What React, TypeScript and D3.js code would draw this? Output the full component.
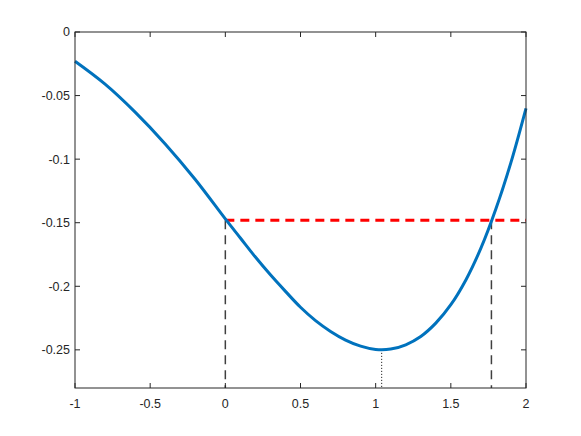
import React, { useEffect, useRef } from 'react';
import * as d3 from 'd3';

// curve samples
const curveX = [-1, -0.8, -0.6, -0.4, -0.2, 0, 0.1, 0.2, 0.3, 0.4, 0.5, 0.6, 0.7, 0.8, 0.9, 1.0, 1.1, 1.2, 1.3, 1.4, 1.5, 1.6, 1.7, 1.8, 1.9, 2.0];
const curveY = [-0.023, -0.041, -0.063, -0.088, -0.116, -0.147, -0.162, -0.177, -0.191, -0.204, -0.2165, -0.227, -0.2355, -0.2423, -0.2471, -0.2497, -0.2494, -0.246, -0.2395, -0.229, -0.2145, -0.195, -0.170, -0.139, -0.1025, -0.060];

const levelY = -0.148;
const crossX = [0, 1.77];
const minX = 1.04;
const minY = -0.25;

const xTicks = [-1, -0.5, 0, 0.5, 1, 1.5, 2];
const yTicks = [0, -0.05, -0.1, -0.15, -0.2, -0.25];

const W = 581;
const H = 436;

const App = () => {
  const svgRef = useRef<SVGSVGElement>(null);

  useEffect(() => {
    if (!svgRef.current) return;
    const svg = d3.select(svgRef.current);
    svg.selectAll('*').remove();

    const margin = { top: 32, right: 55, bottom: 48, left: 75 };
    const x = d3.scaleLinear().domain([-1, 2]).range([margin.left, W - margin.right]);
    const y = d3.scaleLinear().domain([-0.28, 0]).range([H - margin.bottom, margin.top]);

    const axisColor = '#262626';
    const font = '"Liberation Sans", Arial, sans-serif';

    const g = svg.append('g');

    // red level line
    g.append('line')
      .attr('x1', x(0)).attr('x2', x(2))
      .attr('y1', y(levelY)).attr('y2', y(levelY))
      .attr('stroke', '#ff0000')
      .attr('stroke-width', 3)
      .attr('stroke-dasharray', '9,6');

    // vertical dashed drops
    crossX.forEach(cx => {
      g.append('line')
        .attr('x1', x(cx)).attr('x2', x(cx))
        .attr('y1', y(levelY)).attr('y2', y(-0.28))
        .attr('stroke', '#404040')
        .attr('stroke-width', 1.5)
        .attr('stroke-dasharray', '9,6');
    });

    // dotted drop from minimum
    g.append('line')
      .attr('x1', x(minX)).attr('x2', x(minX))
      .attr('y1', y(minY)).attr('y2', y(-0.28))
      .attr('stroke', '#000')
      .attr('stroke-width', 1)
      .attr('stroke-dasharray', '1,2');

    const pts: [number, number][] = curveX.map((d, i) => [d, curveY[i]]);
    const line = d3.line<[number, number]>()
      .x(d => x(d[0]))
      .y(d => y(d[1]))
      .curve(d3.curveCatmullRom.alpha(0.5));

    g.append('path')
      .datum(pts)
      .attr('d', line)
      .attr('fill', 'none')
      .attr('stroke', '#0072BD')
      .attr('stroke-width', 3);

    // box
    const x0 = x(-1), x1 = x(2), y0 = y(-0.28), y1 = y(0);
    g.append('rect')
      .attr('x', x0).attr('y', y1)
      .attr('width', x1 - x0).attr('height', y0 - y1)
      .attr('fill', 'none')
      .attr('stroke', axisColor)
      .attr('stroke-width', 1);

    const tl = 5;
    xTicks.forEach(t => {
      g.append('line').attr('x1', x(t)).attr('x2', x(t)).attr('y1', y0).attr('y2', y0 - tl).attr('stroke', axisColor);
      g.append('line').attr('x1', x(t)).attr('x2', x(t)).attr('y1', y1).attr('y2', y1 + tl).attr('stroke', axisColor);
      g.append('text')
        .attr('x', x(t)).attr('y', y0 + 20)
        .attr('text-anchor', 'middle')
        .attr('font-family', font)
        .attr('font-size', 12.5)
        .attr('fill', axisColor)
        .text(String(t));
    });

    yTicks.forEach(t => {
      g.append('line').attr('x1', x0).attr('x2', x0 + tl).attr('y1', y(t)).attr('y2', y(t)).attr('stroke', axisColor);
      g.append('line').attr('x1', x1).attr('x2', x1 - tl).attr('y1', y(t)).attr('y2', y(t)).attr('stroke', axisColor);
      g.append('text')
        .attr('x', x0 - 5).attr('y', y(t))
        .attr('dy', '0.35em')
        .attr('text-anchor', 'end')
        .attr('font-family', font)
        .attr('font-size', 12.5)
        .attr('fill', axisColor)
        .text(String(t));
    });
  }, []);

  return <svg ref={svgRef} width={W} height={H} style={{ position: 'absolute', left: 0, top: 0 }}></svg>;
};

export default App;
